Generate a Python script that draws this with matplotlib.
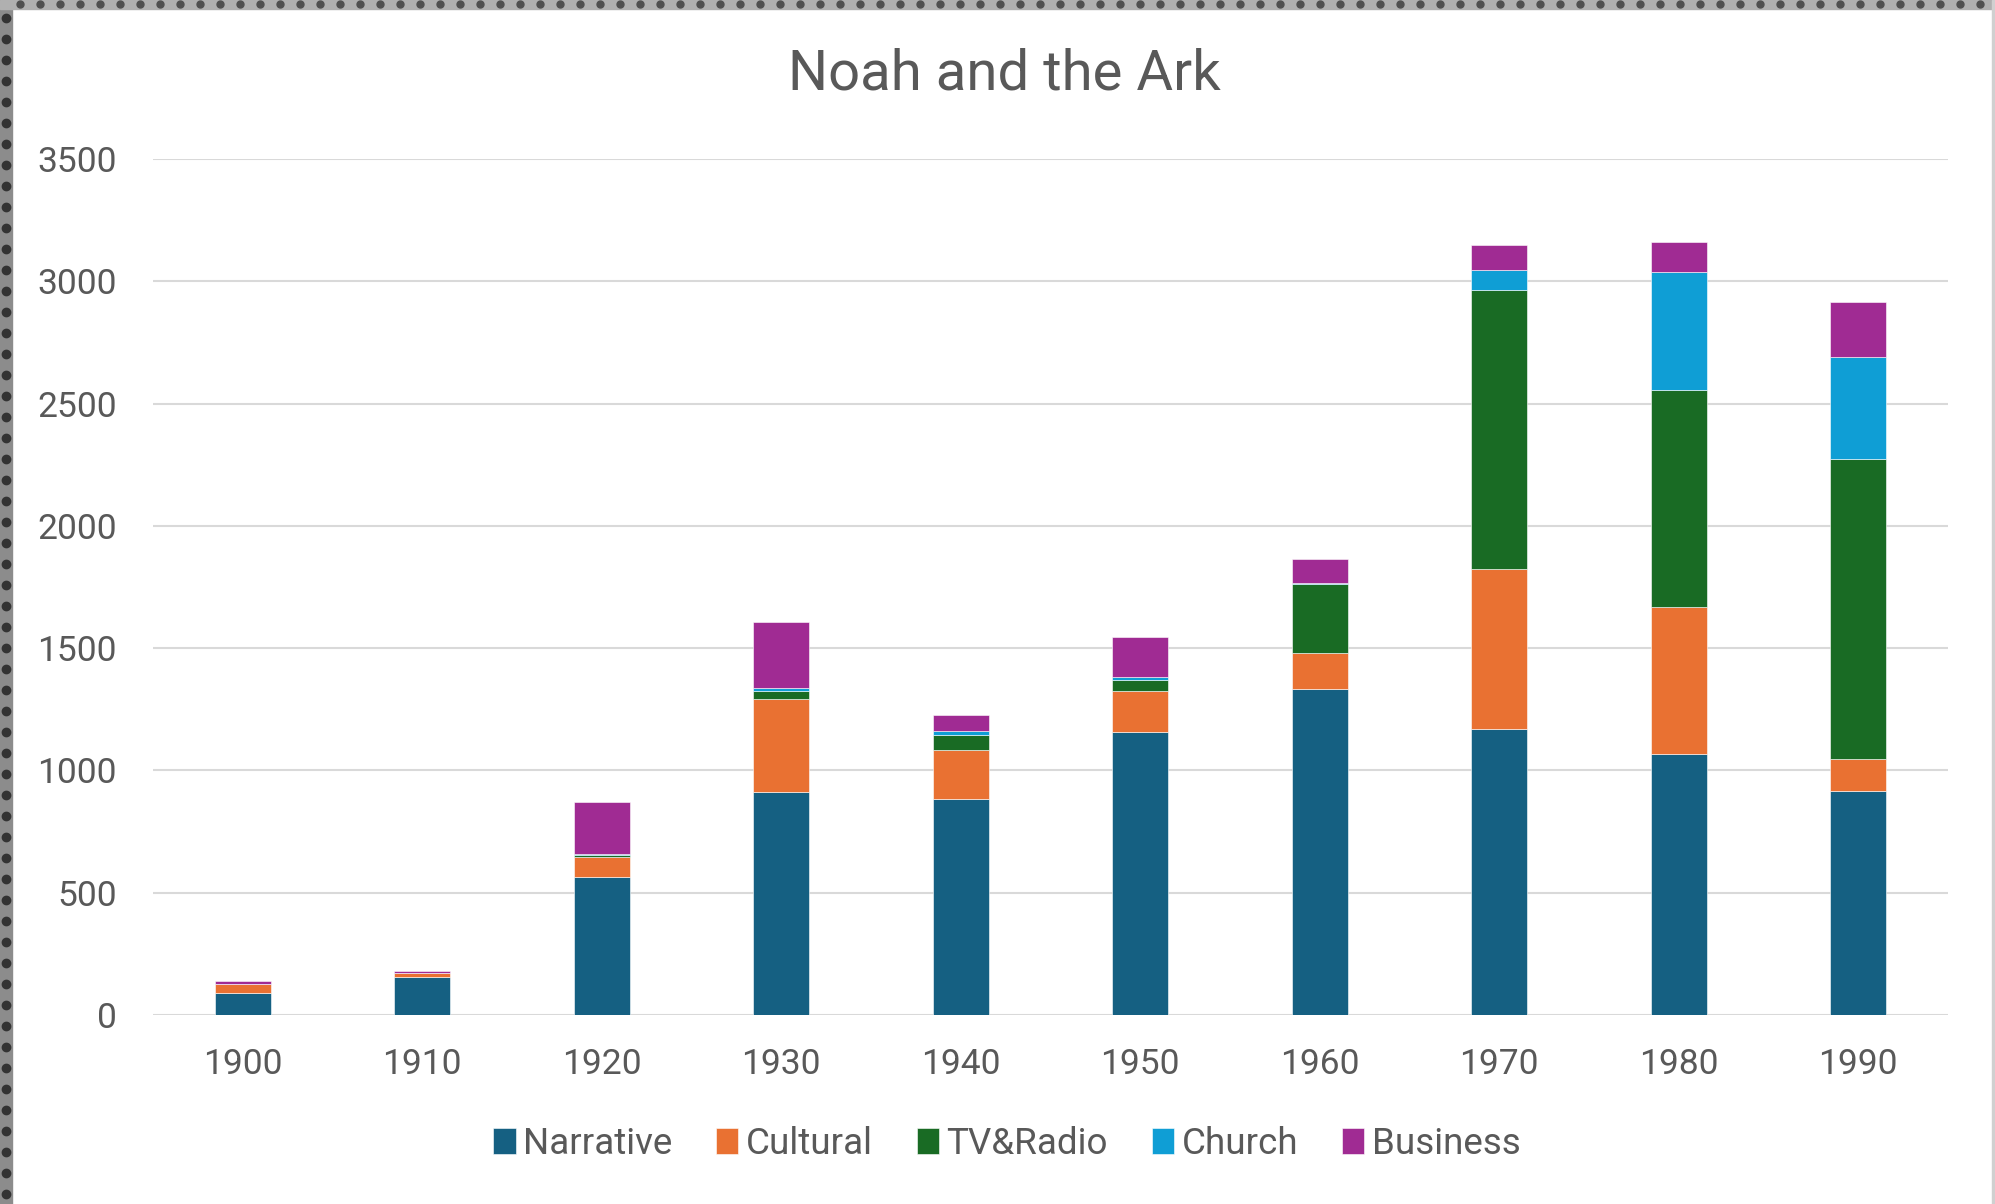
import numpy as np
import matplotlib
matplotlib.use('agg')
import matplotlib.pyplot as plt
from matplotlib.patches import Rectangle
from matplotlib.lines import Line2D

#chart values
years = ['1900', '1910', '1920', '1930', '1940', '1950', '1960', '1970', '1980', '1990']
narrative = [90, 157, 563, 912, 882, 1157, 1333, 1169, 1066, 917]
cultural = [35, 13, 82, 380, 201, 169, 148, 656, 602, 128]
tv_radio = [0, 0, 10, 34, 63, 42, 280, 1138, 888, 1227]
church = [0, 0, 4, 12, 16, 14, 6, 84, 482, 420]
business = [15, 11, 211, 270, 63, 163, 97, 101, 124, 224]

series_names = ['Narrative', 'Cultural', 'TV&Radio', 'Church', 'Business']
series_colors = ['#156082', '#E97132', '#196B24', '#0F9ED5', '#A02B93']
y_ticks = [0, 500, 1000, 1500, 2000, 2500, 3000, 3500]

TEXT = '#595959'
plt.rcParams['font.family'] = ['Roboto', 'DejaVu Sans']

W, H = 1995, 1204
fig = plt.figure(figsize=(W / 100, H / 100), dpi=100)
fig.patch.set_facecolor('white')
ax = fig.add_axes([153 / W, 1 - 1015 / H, (1948 - 153) / W, (1015 - 159) / H])

#stacked bars
x = np.arange(len(years))
bottom = np.zeros(len(years))
for name, vals, col in zip(series_names, [narrative, cultural, tv_radio, church, business], series_colors):
	ax.bar(x, vals, width=0.31, bottom=bottom, color=col, label=name,
		edgecolor='white', linewidth=0.4, zorder=3)
	bottom += np.array(vals)

ax.set_xlim(-0.5, len(years) - 0.5)
ax.set_ylim(0, 3500)
ax.set_yticks(y_ticks)
ax.set_yticklabels([str(v) for v in y_ticks])
ax.set_xticks(x)
ax.set_xticklabels(years)
ax.tick_params(axis='y', length=0, pad=26, labelsize=25.5, labelcolor=TEXT)
ax.tick_params(axis='x', length=0, pad=24, labelsize=25.5, labelcolor=TEXT)
ax.grid(axis='y', color='#D9D9D9', linewidth=1.5, zorder=0)
ax.set_axisbelow(True)
for s in ax.spines.values():
	s.set_visible(False)

fig.text(1004 / W, 1 - 74 / H, 'Noah and the Ark', ha='center', va='center',
	fontsize=40.5, color=TEXT)

ax.legend(loc='center', bbox_to_anchor=(1007 / W, 1 - 1144 / H), bbox_transform=fig.transFigure,
	ncol=5, frameon=False, fontsize=26.5, labelcolor=TEXT, handlelength=0.6, handleheight=0.7,
	handletextpad=0.2, columnspacing=1.2)

#screenshot frame: dotted strips on the left and top, thin line on the right
fig.add_artist(Rectangle((0, 0), 12 / W, 1, transform=fig.transFigure, color='#8C8C8C', zorder=0))
fig.add_artist(Rectangle((0, 1 - 9 / H), 1, 9 / H, transform=fig.transFigure, color='#B0B0B0', zorder=0))
fig.add_artist(Rectangle((1 - 3 / W, 0), 3 / W, 1, transform=fig.transFigure, color='#D0D0D0', zorder=0))
dy = np.arange(10, H, 21)
fig.add_artist(Line2D(np.full(len(dy), 6 / W), dy / H, transform=fig.transFigure,
	ls='none', marker='o', ms=6, color='#333333'))
dx = np.arange(20, W, 20)
fig.add_artist(Line2D(dx / W, np.full(len(dx), 1 - 4 / H), transform=fig.transFigure,
	ls='none', marker='o', ms=5, color='#505050'))

plt.savefig('out.png', dpi=100)
